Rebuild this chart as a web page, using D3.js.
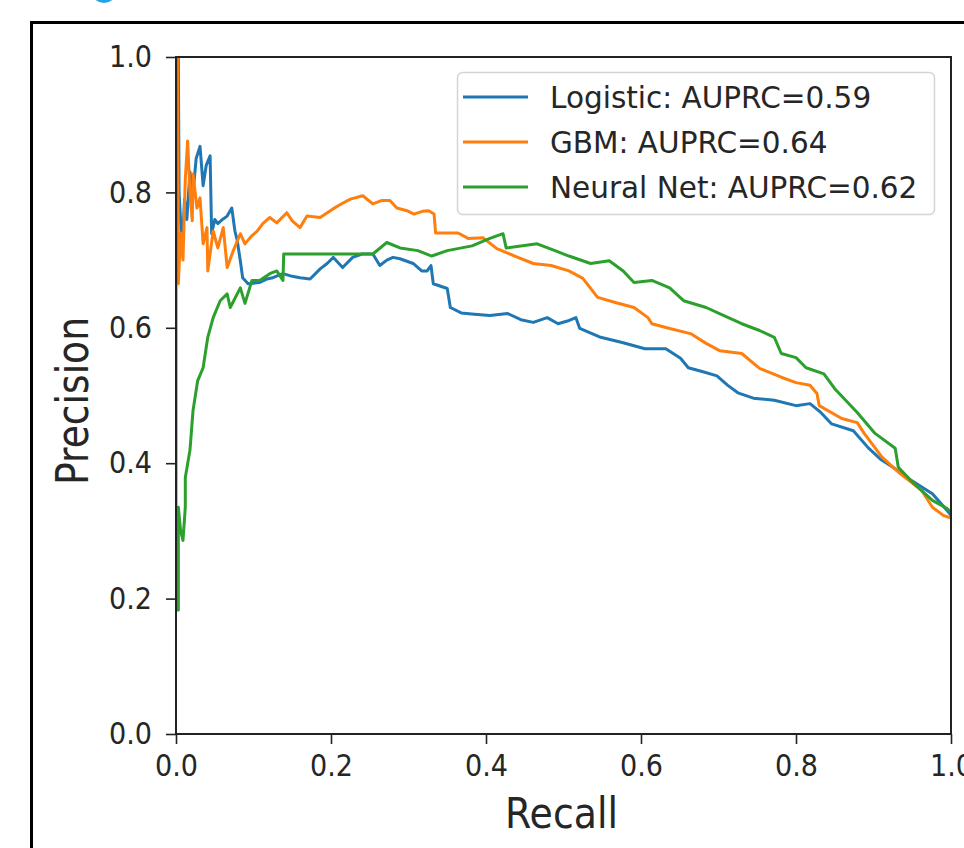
<!DOCTYPE html>
<html>
<head>
<meta charset="utf-8">
<script src="https://cdn.jsdelivr.net/npm/d3@7"></script>
<style>
  body { margin: 0; background: #fff; }
  svg { display: block; }
  text { font-family: "DejaVu Sans", sans-serif; fill: #262626; }
</style>
</head>
<body>
<script>
// series names (legend order) and their colours
var seriesNames = ["Logistic: AUPRC=0.59", "GBM: AUPRC=0.64", "Neural Net: AUPRC=0.62"];
var seriesColors = ["#1f77b4", "#ff7f0e", "#2ca02c"];
var tickValues = [0, 0.2, 0.4, 0.6, 0.8, 1.0];

// [recall, precision] pairs
var logisticCurve = [[0,1.0],[0.003,1.0],[0.004,0.80],[0.008,0.714],[0.011,0.79],[0.014,0.76],[0.018,0.83],[0.022,0.80],[0.026,0.85],[0.031,0.868],[0.035,0.81],[0.039,0.84],[0.044,0.854],[0.046,0.739],[0.050,0.76],[0.054,0.754],[0.060,0.76],[0.066,0.765],[0.072,0.777],[0.076,0.743],[0.079,0.729],[0.083,0.699],[0.086,0.674],[0.093,0.665],[0.108,0.667],[0.117,0.672],[0.125,0.674],[0.138,0.68],[0.150,0.676],[0.160,0.674],[0.173,0.672],[0.186,0.687],[0.195,0.695],[0.203,0.704],[0.215,0.689],[0.228,0.704],[0.240,0.709],[0.254,0.709],[0.263,0.692],[0.272,0.700],[0.280,0.704],[0.289,0.702],[0.306,0.695],[0.317,0.684],[0.324,0.684],[0.329,0.692],[0.332,0.665],[0.350,0.658],[0.354,0.630],[0.368,0.622],[0.385,0.620],[0.405,0.618],[0.428,0.621],[0.445,0.612],[0.461,0.608],[0.479,0.615],[0.493,0.606],[0.505,0.610],[0.516,0.615],[0.521,0.599],[0.548,0.586],[0.577,0.578],[0.605,0.569],[0.632,0.569],[0.651,0.555],[0.661,0.541],[0.680,0.535],[0.698,0.529],[0.712,0.515],[0.725,0.504],[0.745,0.496],[0.772,0.493],[0.800,0.485],[0.818,0.488],[0.832,0.475],[0.846,0.458],[0.874,0.448],[0.893,0.423],[0.910,0.405],[0.925,0.394],[0.948,0.375],[0.976,0.355],[0.995,0.330],[1.0,0.323]];

var gbmCurve = [[0,1.0],[0.002,1.0],[0.003,0.665],[0.006,0.74],[0.009,0.70],[0.012,0.82],[0.015,0.876],[0.018,0.80],[0.021,0.758],[0.022,0.827],[0.027,0.777],[0.031,0.792],[0.035,0.724],[0.040,0.748],[0.041,0.684],[0.048,0.743],[0.054,0.718],[0.061,0.748],[0.066,0.689],[0.074,0.714],[0.083,0.739],[0.089,0.724],[0.097,0.735],[0.105,0.743],[0.112,0.754],[0.121,0.763],[0.130,0.755],[0.143,0.770],[0.150,0.758],[0.160,0.748],[0.169,0.765],[0.186,0.763],[0.203,0.776],[0.215,0.784],[0.225,0.790],[0.241,0.795],[0.254,0.783],[0.265,0.788],[0.276,0.788],[0.285,0.777],[0.298,0.773],[0.307,0.768],[0.318,0.772],[0.326,0.773],[0.333,0.768],[0.335,0.740],[0.364,0.740],[0.377,0.732],[0.396,0.733],[0.414,0.717],[0.437,0.706],[0.461,0.695],[0.484,0.692],[0.507,0.684],[0.525,0.673],[0.544,0.645],[0.568,0.637],[0.591,0.630],[0.609,0.615],[0.614,0.606],[0.637,0.599],[0.665,0.591],[0.684,0.577],[0.702,0.566],[0.730,0.562],[0.753,0.540],[0.781,0.527],[0.800,0.519],[0.818,0.515],[0.827,0.503],[0.830,0.485],[0.859,0.466],[0.879,0.460],[0.888,0.444],[0.911,0.409],[0.934,0.385],[0.962,0.360],[0.976,0.335],[0.990,0.323],[1.0,0.319]];

var nnCurve = [[0,1.0],[0.0,0.183],[0.003,0.183],[0.003,0.335],[0.006,0.30],[0.009,0.286],[0.012,0.335],[0.012,0.379],[0.018,0.419],[0.022,0.478],[0.028,0.522],[0.035,0.541],[0.041,0.586],[0.048,0.615],[0.057,0.640],[0.066,0.650],[0.070,0.630],[0.083,0.659],[0.089,0.636],[0.098,0.670],[0.108,0.670],[0.121,0.680],[0.130,0.684],[0.138,0.670],[0.139,0.709],[0.254,0.709],[0.272,0.726],[0.289,0.718],[0.312,0.714],[0.330,0.706],[0.350,0.714],[0.382,0.721],[0.405,0.732],[0.422,0.739],[0.426,0.718],[0.466,0.724],[0.489,0.714],[0.507,0.706],[0.535,0.695],[0.559,0.699],[0.577,0.684],[0.591,0.667],[0.614,0.670],[0.637,0.659],[0.655,0.640],[0.684,0.630],[0.707,0.618],[0.730,0.606],[0.753,0.596],[0.772,0.586],[0.781,0.562],[0.800,0.556],[0.813,0.541],[0.836,0.532],[0.850,0.510],[0.879,0.475],[0.902,0.444],[0.928,0.422],[0.932,0.394],[0.952,0.370],[0.976,0.345],[0.995,0.333],[1.0,0.327]];

var curves = [logisticCurve, gbmCurve, nnCurve];

var W = 964, H = 848;
var plotL = 176, plotR = 951, plotT = 57, plotB = 734;

var svg = d3.select("body").append("svg")
    .attr("width", W)
    .attr("height", H);

// bit of the blue thing cut off at the top of the screenshot
svg.append("circle")
    .attr("cx", 104).attr("cy", -10).attr("r", 13)
    .attr("fill", "#23a3e6");

// outer figure frame
svg.append("rect")
    .attr("x", 31.5).attr("y", 22.5)
    .attr("width", 1000).attr("height", 900)
    .attr("fill", "none")
    .attr("stroke", "#000")
    .attr("stroke-width", 3);

var x = d3.scaleLinear().domain([0, 1]).range([plotL, plotR]);
var y = d3.scaleLinear().domain([0, 1]).range([plotB, plotT]);

svg.append("clipPath").attr("id", "plotclip")
  .append("rect")
    .attr("x", plotL).attr("y", plotT)
    .attr("width", plotR - plotL).attr("height", plotB - plotT);

var line = d3.line()
    .x(function(d) { return x(d[0]); })
    .y(function(d) { return y(d[1]); });

var g = svg.append("g").attr("clip-path", "url(#plotclip)");
curves.forEach(function(c, i) {
  g.append("path")
    .datum(c)
    .attr("fill", "none")
    .attr("stroke", seriesColors[i])
    .attr("stroke-width", 3)
    .attr("stroke-linejoin", "round")
    .attr("d", line);
});

// axes
var fmt = d3.format(".1f");
var xAxis = svg.append("g")
    .attr("transform", "translate(0," + plotB + ")")
    .call(d3.axisBottom(x).tickValues(tickValues).tickFormat(fmt).tickSize(10).tickPadding(11));
var yAxis = svg.append("g")
    .attr("transform", "translate(" + plotL + ",0)")
    .call(d3.axisLeft(y).tickValues(tickValues).tickFormat(fmt).tickSize(10).tickPadding(14));

[xAxis, yAxis].forEach(function(a) {
  a.select(".domain").remove();
  a.selectAll(".tick line").attr("stroke", "#222").attr("stroke-width", 1.6);
  a.selectAll(".tick text")
    .attr("font-family", "DejaVu Sans")
    .attr("font-size", 30)
    .attr("fill", "#262626")
    .attr("textLength", 43)
    .attr("lengthAdjust", "spacingAndGlyphs");
});

// spines
svg.append("rect")
    .attr("x", plotL).attr("y", plotT)
    .attr("width", plotR - plotL).attr("height", plotB - plotT)
    .attr("fill", "none")
    .attr("stroke", "#222")
    .attr("stroke-width", 2);

// axis labels
svg.append("text")
    .attr("x", (plotL + plotR) / 2 - 2)
    .attr("y", 828)
    .attr("text-anchor", "middle")
    .attr("font-size", 43)
    .attr("textLength", 113)
    .attr("lengthAdjust", "spacingAndGlyphs")
    .text("Recall");

svg.append("text")
    .attr("transform", "translate(88,401) rotate(-90)")
    .attr("text-anchor", "middle")
    .attr("font-size", 45)
    .attr("textLength", 168)
    .attr("lengthAdjust", "spacingAndGlyphs")
    .text("Precision");

// legend
var legend = svg.append("g");
legend.append("rect")
    .attr("x", 457.5).attr("y", 72.5)
    .attr("width", 477).attr("height", 142)
    .attr("rx", 5)
    .attr("fill", "#fff")
    .attr("fill-opacity", 0.8)
    .attr("stroke", "#d4d4d4")
    .attr("stroke-width", 1.5);

var ly = d3.scalePoint().domain(seriesNames).range([97, 187]);
seriesNames.forEach(function(name, i) {
  legend.append("line")
    .attr("x1", 463).attr("x2", 528)
    .attr("y1", ly(name)).attr("y2", ly(name))
    .attr("stroke", seriesColors[i])
    .attr("stroke-width", 3);
  legend.append("text")
    .attr("x", 550)
    .attr("y", ly(name))
    .attr("dy", "0.36em")
    .attr("font-size", 29.5)
    .text(name);
});
</script>
</body>
</html>
